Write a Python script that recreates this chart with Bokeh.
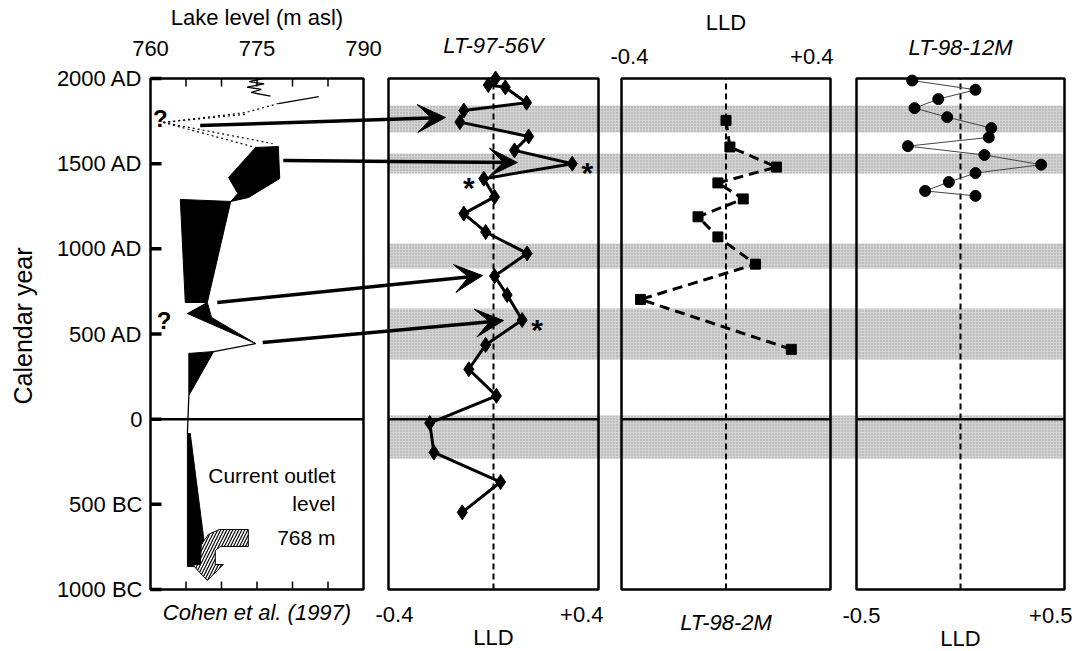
from bokeh.plotting import figure
from bokeh.models import Range1d, LinearAxis, FixedTicker, Arrow, VeeHead
from bokeh.core.properties import value
from bokeh.embed import file_html
from bokeh.resources import INLINE

FONT = "Liberation Sans"

# ---------------- data ----------------
# shaded intervals (calendar years)
band_top = [1841, 1560, 1031, 650, 22]
band_bottom = [1683, 1442, 885, 350, -231]

# LLD records
core56v_year = [2000, 1962, 1948, 1858, 1812, 1744, 1660, 1578, 1500, 1412, 1305,
                1207, 1099, 973, 840, 729, 582, 436, 293, 137, -23, -195, -369, -547]
core56v_lld = [0.008, -0.020, 0.045, 0.126, -0.113, -0.128, 0.134, 0.080, 0.300,
               -0.037, 0.004, -0.113, -0.030, 0.128, 0.004, 0.052, 0.109, -0.030,
               -0.094, 0.011, -0.243, -0.227, 0.027, -0.119]
core56v_star_year = [1500, 1412, 582]
core56v_star_lld = [0.300, -0.037, 0.109]
core56v_star_side = [1, -1, 1]

core2m_year = [1754, 1598, 1480, 1387, 1293, 1188, 1070, 910, 703, 410]
core2m_lld = [0.000, 0.015, 0.193, -0.031, 0.066, -0.107, -0.031, 0.113, -0.327, 0.250]

core12m_year = [1988, 1934, 1879, 1826, 1773, 1709, 1654, 1603, 1551, 1494, 1445,
                1392, 1340, 1311]
core12m_lld = [-0.232, 0.072, -0.107, -0.221, -0.064, 0.148, 0.136, -0.253, 0.115,
               0.388, 0.072, -0.056, -0.170, 0.072]

# lake level reconstruction (Cohen et al. 1997), m asl vs year
modern_lake = [775.9, 773.9, 776.0, 773.6, 775.6, 774.2, 776.9]
modern_year = [2000, 1982, 1968, 1950, 1936, 1918, 1896]
historic_lake = [778.0, 783.7]
historic_year = [1853, 1894]
uncertain_lake = [[761.8, 773.4, 778.0], [761.8, 773.4], [761.8, 774.8], [761.8, 777.2]]
uncertain_year = [[1742, 1800, 1853], [1742, 1790], [1742, 1595], [1742, 1618]]
envelope_lake = [
    [774.8, 778.0, 778.2, 773.8, 771.3, 772.3, 771.0],
    [764.2, 771.3, 768.0, 764.9],
    [768.0, 765.2, 774.8, 768.6],
    [765.4, 768.9, 765.4],
    [765.2, 765.6, 768.0, 765.2],
]
envelope_year = [
    [1595, 1601, 1413, 1301, 1278, 1325, 1419],
    [1290, 1278, 685, 685],
    [685, 620, 444, 597],
    [386, 397, 139],
    [-84, -84, -865, -865],
]
connector_lake = [[774.8, 768.9], [765.4, 765.2]]
connector_year = [[444, 397], [139, -84]]
question_lake = [761.4, 761.9]
question_year = [1765, 579]
outlet_level = 768

# links between lake-level events and LLD excursions
link_from_lake = [767.0, 778.7, 769.4, 775.8]
link_from_year = [1724, 1519, 685, 450]
link_to_lld = [-0.183, 0.091, -0.042, 0.038]
link_to_year = [1771, 1507, 843, 579]

lake_ticks = [760, 775, 790]
lake_minor = [765, 770, 775, 780, 785]
lld_ticks = [-0.4, 0.4]
lld_tick_labels = ["-0.4", "+0.4"]
lld12_ticks = [-0.5, 0.5]
lld12_tick_labels = ["-0.5", "+0.5"]
year_ticks = [-1000, -500, 0, 500, 1000, 1500, 2000]
year_tick_labels = ["1000 BC", "500 BC", "0", "500 AD", "1000 AD", "1500 AD", "2000 AD"]

# ---------------- layout ----------------
W, H = 1077, 651
FL, FR, FT, FB = 44, W, 0, H                   # plot frame (px)
Y_TOP, Y_BOT = 78, 589                         # px rows of 2000 AD and 1000 BC
P1, P2, P3, P4 = (150, 363), (388, 598), (621, 830), (856, 1064)


def span_range(lo, hi, px):
    k = (hi - lo) / (px[1] - px[0])
    return Range1d(lo - (px[0] - FL) * k, hi + (FR - px[1]) * k)


ky = 3000 / (Y_BOT - Y_TOP)
yr = Range1d(-1000 - (FB - Y_BOT) * ky, 2000 + (Y_TOP - FT) * ky)
xr = span_range(760, 790, P1)
rng = {"p2": span_range(-0.4, 0.4, P2),
       "p3": span_range(-0.4, 0.4, P3),
       "p4": span_range(-0.5, 0.5, P4)}
mx = (xr.end - xr.start) / (FR - FL)     # lake-level metres per pixel
my = (yr.end - yr.start) / (FB - FT)     # years per pixel


def to_base(name, v):
    r = rng[name]
    f = (v - r.start) / (r.end - r.start)
    return xr.start + f * (xr.end - xr.start)


def row_y(py):
    return yr.end - (py - FT) * my


def col_x(px):
    return xr.start + (px - FL) * mx


p = figure(width=W, height=H, x_range=xr, y_range=yr, output_backend="svg",
           toolbar_location=None, x_axis_location=None, y_axis_location=None,
           min_border_left=FL, min_border_right=0, min_border_top=0, min_border_bottom=0)
p.extra_x_ranges = rng
p.outline_line_color = None
p.grid.visible = False
p.background_fill_color = "white"
p.border_fill_color = "white"

# ---- calendar-year axis title ----
ya = LinearAxis(ticker=FixedTicker(ticks=[]), axis_label="Calendar year",
                axis_line_color=None, major_tick_line_color=None,
                minor_tick_line_color=None,
                axis_label_text_font=FONT, axis_label_text_font_size="25px",
                axis_label_text_color="black",
                axis_label_text_font_style="normal", axis_label_standoff=8)
p.add_layout(ya, "left")


def text(xs, py, labels, name="default", style="normal", size="22px",
         align="center", dx=0):
    p.text(xs, [row_y(py)] * len(xs), text=labels, x_range_name=name,
           text_font=value(FONT), text_font_size=size, text_font_style=style,
           text_align=align, text_baseline="middle", text_color="black", x_offset=dx)


# ---- shaded intervals across the LLD panels ----
p.quad(left=to_base("p2", -0.4), right=to_base("p4", 0.5), top=band_top,
       bottom=band_bottom, fill_color="#d3d3d3", line_color=None,
       hatch_pattern="dot", hatch_color="#9a9a9a", hatch_scale=3, hatch_weight=0.8)

# ---- panel frames, ticks, zero lines, LLD=0 lines ----
p.quad(left=760, right=790, bottom=-1000, top=2000, fill_color=None,
       line_color="black", line_width=2.5)
p.line([760, 790], [0, 0], line_color="black", line_width=2.5)
p.multi_line([[760, 760 + 11 * mx] for _ in year_ticks],
             [[t, t] for t in year_ticks], line_color="black", line_width=3.5)
p.multi_line([[m, m] for m in lake_minor] * 2,
             [[2000, 2000 - 8 * my] for _ in lake_minor]
             + [[-1000, -1000 + 8 * my] for _ in lake_minor],
             line_color="black", line_width=1.5)
p.text([760] * len(year_ticks), year_ticks, text=year_tick_labels,
       text_font=value(FONT), text_font_size="22px", text_align="right",
       text_baseline="middle", text_color="black", x_offset=-8)
for name, lo, hi in (("p2", -0.4, 0.4), ("p3", -0.4, 0.4), ("p4", -0.5, 0.5)):
    p.quad(left=lo, right=hi, bottom=-1000, top=2000, fill_color=None,
           line_color="black", line_width=2.5, x_range_name=name)
    p.line([lo, hi], [0, 0], line_color="black", line_width=2.5, x_range_name=name)
    p.line([0, 0], [-1000, 2000], line_color="black", line_width=2,
           line_dash="6 4", x_range_name=name)

# ---- lake level panel ----
p.patches(envelope_lake, envelope_year, fill_color="black", line_color="black",
          line_width=1)
p.multi_line(connector_lake, connector_year, line_color="black", line_width=1.3)
p.line(modern_lake, modern_year, line_color="black", line_width=1.3)
p.line(historic_lake, historic_year, line_color="black", line_width=1.3)
p.multi_line(uncertain_lake, uncertain_year, line_color="black", line_width=1.2,
             line_dash="2 3")
p.text(question_lake, question_year, text=["?", "?"], text_font=value(FONT),
       text_font_size="24px", text_font_style="bold", text_align="center",
       text_baseline="middle")

# outlet symbol: bent arrow pointing at the outlet level
tip_year = row_y(580)
shape_dx = [0, 16, 8, 8, 13, 41, 41, 12, 1, -6, -7, -15]
shape_dy = [0, -16, -16, -30, -34, -34, -51, -51, -46, -36, -16, -16]
p.patch([outlet_level + d * mx for d in shape_dx],
        [tip_year - d * my for d in shape_dy],
        fill_color="white", line_color="black", line_width=1,
        hatch_pattern="/", hatch_color="black", hatch_scale=6, hatch_weight=1.2)
for txt, py in (("Current outlet", 475), ("level", 503), (f"{outlet_level} m", 537)):
    text([col_x(335)], py, [txt], size="21px", align="right")

# ---- LLD records ----
p.line(core56v_lld, core56v_year, x_range_name="p2", line_color="black", line_width=3)
p.scatter(core56v_lld, core56v_year, x_range_name="p2", marker="diamond", size=15,
          fill_color="black", line_color="black")
p.text(core56v_star_lld, core56v_star_year, text=["*"] * 3,
       x_range_name="p2", x_offset=[15 * s for s in core56v_star_side], y_offset=9,
       text_font=value(FONT), text_font_size="30px", text_font_style="bold",
       text_align="center", text_baseline="middle")

p.line(core2m_lld, core2m_year, x_range_name="p3", line_color="black", line_width=3,
       line_dash="10 6")
p.scatter(core2m_lld, core2m_year, x_range_name="p3", marker="square", size=10,
          fill_color="black", line_color="black")

p.line(core12m_lld, core12m_year, x_range_name="p4", line_color="#444444", line_width=1)
p.scatter(core12m_lld, core12m_year, x_range_name="p4", marker="circle", size=11,
          fill_color="black", line_color="black")

# ---- arrows linking lake-level events to LLD excursions ----
for xs, ys, v, ye in zip(link_from_lake, link_from_year, link_to_lld, link_to_year):
    p.add_layout(Arrow(end=VeeHead(size=28, fill_color="black", line_color="black"),
                       x_start=xs, y_start=ys, x_end=to_base("p2", v), y_end=ye,
                       line_color="black", line_width=3.5))

# ---- scale labels, panel titles and axis names ----
text(lake_ticks, 48, [str(t) for t in lake_ticks])
text([775], 17, ["Lake level (m asl)"])
text([775], 612, ["Cohen et al. (1997)"], style="italic")

text([0], 45, ["LT-97-56V"], "p2", "italic")
text(lld_ticks[:1], 614, lld_tick_labels[:1], "p2", align="left", dx=-13)
text(lld_ticks[1:], 614, lld_tick_labels[1:], "p2", align="right", dx=5)
text([0], 637, ["LLD"], "p2")

text([0], 22, ["LLD"], "p3")
text(lld_ticks[:1], 56, lld_tick_labels[:1], "p3", align="left", dx=-11)
text(lld_ticks[1:], 56, lld_tick_labels[1:], "p3", align="right", dx=3)
text([0], 622, ["LT-98-2M"], "p3", "italic")

text([0], 47, ["LT-98-12M"], "p4", "italic")
text(lld12_ticks[:1], 615, lld12_tick_labels[:1], "p4", align="left", dx=-14)
text(lld12_ticks[1:], 615, lld12_tick_labels[1:], "p4", align="right", dx=8)
text([0], 638, ["LLD"], "p4")

open("out.html", "w").write(file_html(p, INLINE))
